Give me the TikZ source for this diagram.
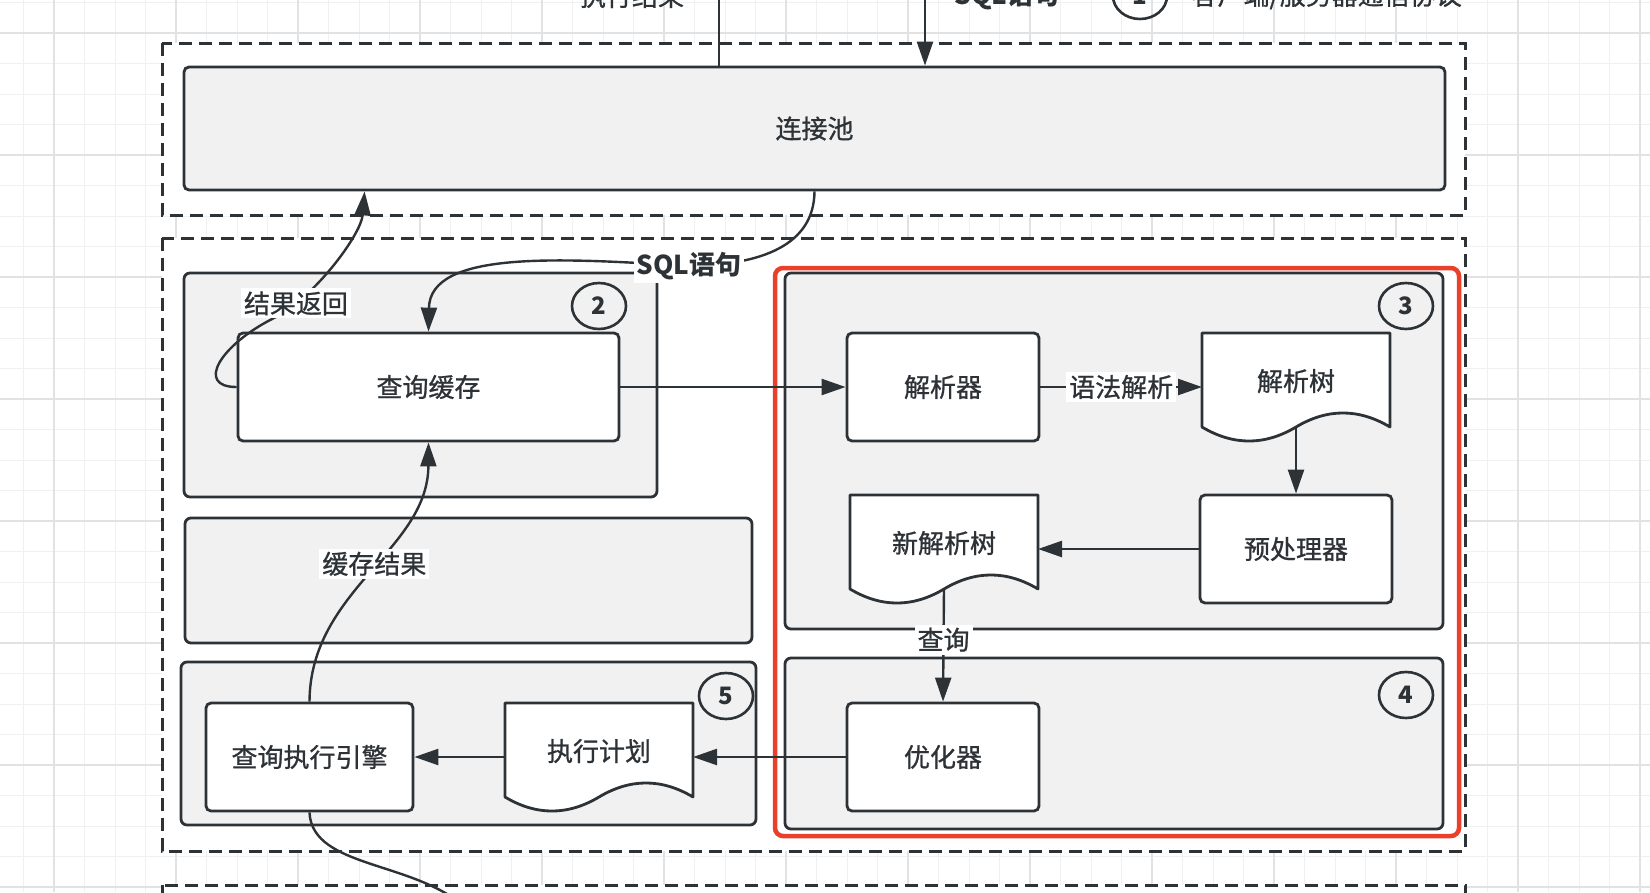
\documentclass[tikz,border=0pt]{standalone}
\usepackage{fontspec}
\setmainfont{Noto Sans CJK SC}[UprightFeatures={FakeBold=0.9}]
\usetikzlibrary{arrows.meta,calc,shapes.geometric}

\definecolor{inkdark}{RGB}{45,50,55}
\definecolor{panelgray}{RGB}{241,241,241}
\definecolor{alertred}{RGB}{232,64,42}
\definecolor{gridminor}{RGB}{240,240,240}
\definecolor{gridmajor}{RGB}{226,226,226}

% document shape: outline first, then the named text node on top
\newcommand{\docnode}[4]{%
  \draw[docline] (#2-94,#3-54) -- ++(188,0) -- ++(0,94)
    .. controls +(-31.3,-18.7) and +(31.3,-18.7) .. ++(-94,0)
    .. controls +(-31.3,18.7) and +(31.3,18.7) .. ++(-94,0) -- cycle;
  \node[doctext] (#1) at (#2,#3) {#4};}

\begin{document}
\begin{tikzpicture}[x=1pt, y=-1pt,
    font=\fontsize{26}{30}\selectfont, text=inkdark,
    box/.style={draw=inkdark, line width=2.8pt, rounded corners=5pt, fill=white, inner sep=0pt},
    docline/.style={draw=inkdark, line width=2.8pt, fill=white, line join=round},
    doctext/.style={minimum width=188pt, minimum height=108pt, inner sep=0pt, outer sep=0pt, text depth=14pt},
    panel/.style={draw=inkdark, line width=2.8pt, rounded corners=6pt, fill=panelgray},
    frame/.style={draw=inkdark, line width=3pt, dash pattern=on 13pt off 7pt, fill=white},
    flow/.style={draw=inkdark, line width=2.4pt, -{Triangle[length=24pt,width=16pt]}},
    wire/.style={draw=inkdark, line width=2.4pt},
    lbl/.style={fill=white, inner sep=3pt},
    badge/.style={draw=inkdark, line width=2.6pt, ellipse, minimum width=54pt, minimum height=46pt,
      inner sep=0pt, font=\fontsize{24}{24}\selectfont\bfseries},
    gridfine/.style={draw=gridminor, line width=1pt},
    gridbold/.style={draw=gridmajor, line width=1.5pt}]

  \useasboundingbox (0,0) rectangle (1650,892);
  \fill[white] (0,0) rectangle (1650,892);

  % canvas grid
  \foreach \i in {0,...,54} \draw[gridfine] (23.5+30.5*\i,0) -- ++(0,892);
  \foreach \j in {0,...,29} \draw[gridfine] (0,2.5+30.5*\j) -- ++(1650,0);
  \foreach \i in {0,...,13} \draw[gridbold] (54+122*\i,0) -- ++(0,892);
  \foreach \j in {0,...,7} \draw[gridbold] (0,33+122*\j) -- ++(1650,0);

  % layers
  \draw[frame] (162,43) rectangle (1465,215);
  \draw[frame] (162,238) rectangle (1465,851);
  \draw[frame] (162,885) rectangle (1465,960);

  \draw[panel] (184,273) rectangle (657,497);
  \draw[panel] (185,518) rectangle (752,643);
  \draw[panel] (181,662) rectangle (756,825);
  \draw[panel] (785,273) rectangle (1443,629);
  \draw[panel] (785,658) rectangle (1443,829);
  \draw[draw=alertred, line width=4.5pt, rounded corners=8pt] (775,268) rectangle (1459,836);

  % top text, cut by the page edge
  \node (resulttext) at (632,-4) {执行结果};
  \node[font=\fontsize{26}{30}\selectfont\bfseries] (sqltext) at (1007,-4) {SQL语句};
  \node[badge] (one) at (1140,-4) {1};
  \node[anchor=west] (protocol) at (1188,-4) {客户端/服务器通信协议};

  % nodes
  \node[box, fill=panelgray, minimum width=1261pt, minimum height=123pt] (pool) at (814.5,128.5) {连接池};
  \node[box, minimum width=381pt, minimum height=108pt] (cache) at (428.5,387) {查询缓存};
  \node[box, minimum width=192pt, minimum height=108pt] (parser) at (943,387) {解析器};
  \docnode{ptree}{1296}{387}{解析树}
  \node[box, minimum width=192pt, minimum height=108pt] (prep) at (1296,549) {预处理器};
  \docnode{nptree}{944}{549}{新解析树}
  \node[box, minimum width=192pt, minimum height=108pt] (optim) at (943,757) {优化器};
  \docnode{plan}{599}{757}{执行计划}
  \node[box, minimum width=207pt, minimum height=108pt] (engine) at (309.5,757) {查询执行引擎};

  \node[badge] (two) at (599,306) {2};
  \node[badge] (three) at (1406,306) {3};
  \node[badge] (four) at (1406,695) {4};
  \node[badge] (five) at (726,696) {5};

  % connectors
  \coordinate (resultout) at (719,-40);
  \coordinate (sqlin) at (925,-40);
  \coordinate (engineout) at (470,912);
  \draw[wire] (pool.north -| resultout) -- (resultout);
  \draw[flow] (sqlin) -- (sqlin |- pool.north);

  \draw[flow] (pool.south) .. controls (814,245) and (762,265) .. (689,266)
    node[lbl, font=\fontsize{26}{30}\selectfont\bfseries] (sqllabel) {SQL语句}
    .. controls (560,258) and (430,250) .. (cache.north);
  \draw[flow] (cache.west) .. controls (195,387) and (220,345) .. (274,318)
    .. controls (314,298) and (361,235) .. node[lbl, pos=0.18] (backlabel) {结果返回} ($(pool.south west)+(182,0)$);
  \draw[flow] (cache.east) -- (parser.west);
  \draw[flow] (parser.east) -- node[lbl] (syntaxlabel) {语法解析} (ptree.west);
  \draw[flow] ([yshift=14pt]ptree.south) -- (prep.north);
  \draw[flow] (prep.west) -- (nptree.east);
  \draw[flow] ([yshift=14pt]nptree.south) -- node[lbl, pos=0.45] (querylabel) {查询} (optim.north);
  \draw[flow] (optim.west) -- (plan.east);
  \draw[flow] (plan.west) -- (engine.east);
  \draw[flow] (engine.north) .. controls (310,590) and (428,550) .. node[lbl, pos=0.53] (storelabel) {缓存结果} (cache.south);
  \draw[wire] (engine.south) .. controls (312,870) and (420,860) .. (engineout);
\end{tikzpicture}
\end{document}
